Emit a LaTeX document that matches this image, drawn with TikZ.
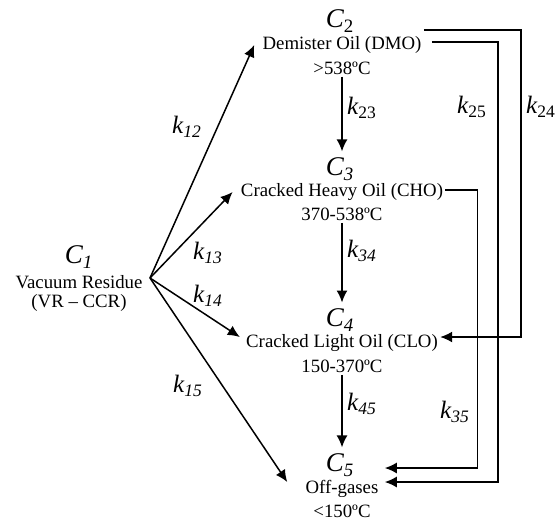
\documentclass[tikz,border=0pt]{standalone}
\usepackage{fontspec}
\setmainfont{Liberation Serif}
\usetikzlibrary{arrows.meta,calc}
\begin{document}
\begin{tikzpicture}[x=0.5pt,y=-0.5pt,
 txt/.style={inner sep=1pt, font=\fontsize{9.4}{11}\selectfont},
 cl/.style={inner sep=0pt, font=\fontsize{13.5}{15}\selectfont\itshape},
 kl/.style={inner sep=0pt, font=\fontsize{12.5}{14}\selectfont\itshape},
 arr/.style={line width=0.75pt, -{Latex[length=6pt,width=5.5pt]}},
 ln/.style={line width=0.75pt}]
\useasboundingbox (0,0) rectangle (555,520);
% C1
\node[cl] (c1) at (79,257) {C\textsubscript{1}};
\node[txt] (vr) at (79,282) {Vacuum Residue};
\node[txt] (vr2) at (79,303) {(VR – CCR)};
\coordinate (o) at (150,278);
% C2
\node[cl] (c2) at (340,21) {C\textsubscript{\upshape 2}};
\node[txt] (dmo) at (342,45) {Demister Oil (DMO)};
\node[txt] (t2) at (342,68) {>538ºC};
% C3
\node[cl] (c3) at (340,169) {C\textsubscript{3}};
\node[txt] (cho) at (342,192) {Cracked Heavy Oil (CHO)};
\node[txt] (t3) at (342,214) {370-538ºC};
% C4
\node[cl] (c4) at (340,320) {C\textsubscript{4}};
\node[txt] (clo) at (342,343) {Cracked Light Oil (CLO)};
\node[txt] (t4) at (342,366) {150-370ºC};
% C5
\node[cl] (c5) at (340,465) {C\textsubscript{5}};
\node[txt] (off) at (342,489) {Off-gases};
\node[txt] (t5) at (342,511) {<150ºC};
% arrows from C1
\draw[arr] (o) -- ([xshift=-3pt]dmo.west);
\draw[arr] (o) -- ([xshift=-3pt]cho.west);
\draw[arr] (o) -- ([xshift=-2pt,yshift=3pt]clo.west);
\draw[arr] (o) -- ([xshift=-8pt,yshift=3.5pt]off.west);
% vertical
\draw[arr,shorten >=3pt] (t2.south) -- (t2.south |- c3.north);
\draw[arr,shorten >=3pt] (t3.south) -- (t3.south |- c4.north);
\draw[arr,shorten >=3pt] (t4.south) -- (t4.south |- c5.north);
% right loops
\draw[arr] ([yshift=7.5pt]dmo.east) -- ++(97,0) |- ([yshift=3pt]clo.east);
\draw[arr] ([xshift=4pt,yshift=1.5pt]dmo.east) -- ++(66,0) |- ([xshift=2pt,yshift=3.5pt]off.east);
\draw[arr] ([yshift=1pt]cho.east) -- ++(32,0) |- ([xshift=2pt,yshift=10.5pt]off.east);
% labels
\node[kl] (k12) at (187,127) {k\textsubscript{12}};
\node[kl] (k13) at (208,253) {k\textsubscript{13}};
\node[kl] (k14) at (208,296) {k\textsubscript{14}};
\node[kl] (k15) at (188,386) {k\textsubscript{15}};
\node[kl] (k23) at (362,108) {k\textsubscript{\upshape 23}};
\node[kl] (k34) at (362,251) {k\textsubscript{34}};
\node[kl] (k45) at (362,404) {k\textsubscript{45}};
\node[kl] (k35) at (455,412) {k\textsubscript{35}};
\node[kl] (k25) at (472,107) {k\textsubscript{\upshape 25}};
\node[kl] (k24) at (541,107) {k\textsubscript{\upshape 24}};
\end{tikzpicture}
\end{document}
